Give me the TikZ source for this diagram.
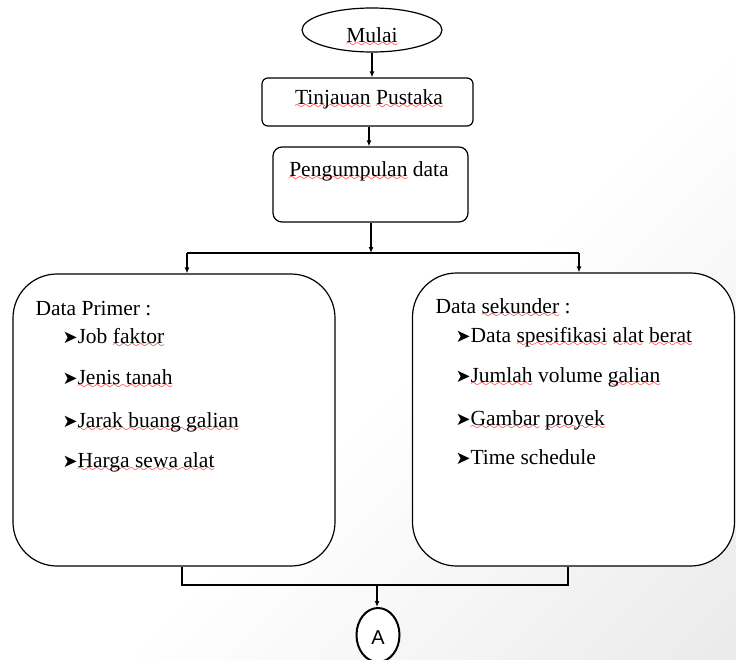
\documentclass[tikz,border=0pt]{standalone}
\usepackage{fontspec}
\setmainfont{Liberation Serif}
\newfontfamily\dejavu{DejaVu Sans}
\newfontfamily\arialfont{Liberation Sans}
\usetikzlibrary{shapes.geometric,arrows.meta}
\font\redwavefont=lasy6 at 10pt
\newcommand\spl[1]{\setbox0\hbox{#1}\rlap{\color{red}\lower4.5pt\hbox to \wd0{\xleaders\hbox{\redwavefont\char58}\hfil}}\box0\relax}
\newcommand\bul{\makebox[15pt][l]{\dejavu\fontsize{18}{18}\selectfont ➤}}
\pgfdeclareverticalshading{cornershade}{100bp}{color(0bp)=(black!12); color(30bp)=(black!4); color(46bp)=(white); color(100bp)=(white)}
\begin{document}
\begin{tikzpicture}[x=1pt,y=-1pt,
  line width=1.2pt,
  arr/.style={-{Latex[length=6pt,width=5pt]}},
  box/.style={draw, fill=white, line width=1.2pt, inner sep=0pt},
  txt/.style={inner sep=0pt, font=\fontsize{21.5}{25}\selectfont},
]
\useasboundingbox (0,0) rectangle (736,659);
\shade[shading=cornershade, shading angle=45] (0,0) rectangle (736,659);

% top chain
\node[box, ellipse, minimum width=140, minimum height=44] (mulai) at (372,30) {};
\node[txt, anchor=base] (mulaitxt) at (372,42) {\spl{Mulai}};
\node[box, rectangle, rounded corners=6, minimum width=211, minimum height=48] (tinj) at (367.5,102) {};
\node[txt, anchor=base] (tinjtxt) at (369,104) {\spl{Tinjauan} \spl{Pustaka}};
\node[box, rectangle, rounded corners=9, minimum width=195, minimum height=75] (peng) at (370.5,184.5) {};
\node[txt, anchor=base] (pengtxt) at (369,176) {\spl{Pengumpulan} data};

% data boxes
\node[box, rectangle, rounded corners=44, minimum width=322, minimum height=292] (primer) at (174,420) {};
\node[box, rectangle, rounded corners=44, minimum width=322, minimum height=293] (sekunder) at (573.5,419.5) {};

\node[txt, anchor=base west] (ph) at (35,315) {Data Primer :};
\node[txt, anchor=base west] (p1) at (62,343) {\bul Job \spl{faktor}};
\node[txt, anchor=base west] (p2) at (62,384) {\bul\spl{Jenis tanah}};
\node[txt, anchor=base west] (p3) at (62,427) {\bul\spl{Jarak buang galian}};
\node[txt, anchor=base west] (p4) at (62,467) {\bul\spl{Harga sewa alat}};

\node[txt, anchor=base west] (sh) at (435,313) {Data \spl{sekunder} :};
\node[txt, anchor=base west] (s1) at (455,342) {\bul Data \spl{spesifikasi} \spl{alat} \spl{berat}};
\node[txt, anchor=base west] (s2) at (455,382) {\bul\spl{Jumlah} volume \spl{galian}};
\node[txt, anchor=base west] (s3) at (455,425) {\bul\spl{Gambar} \spl{proyek}};
\node[txt, anchor=base west] (s4) at (455,464) {\bul Time schedule};

% end connector
\node[draw, ellipse, fill=white, line width=2pt, minimum width=43, minimum height=54, inner sep=0pt] (A) at (378,635) {};
\node[inner sep=0pt, font=\arialfont\fontsize{20}{20}\selectfont, anchor=base] (Atxt) at (378,644) {A};

% connectors
\coordinate (split) at (371,253);
\coordinate (sl) at (187,253);
\coordinate (sr) at (579,253);
\coordinate (bl) at (182,585);
\coordinate (br) at (568,585);
\coordinate (bm) at (377,585);

\draw[arr] (mulai.south) -- (mulai.south |- tinj.north);
\draw[arr] (tinjtxt |- tinj.south) -- (tinjtxt |- peng.north);
\draw[arr] (split |- peng.south) -- (split);
\draw (sl) -- (sr);
\draw[arr] (sl) -- (sl |- primer.north);
\draw[arr] (sr) -- (sr |- sekunder.north);
\draw (bl |- primer.south) -- (bl) -- (br) -- (br |- sekunder.south);
\draw[arr] (bm) -- (bm |- A.north);
\end{tikzpicture}
\end{document}
